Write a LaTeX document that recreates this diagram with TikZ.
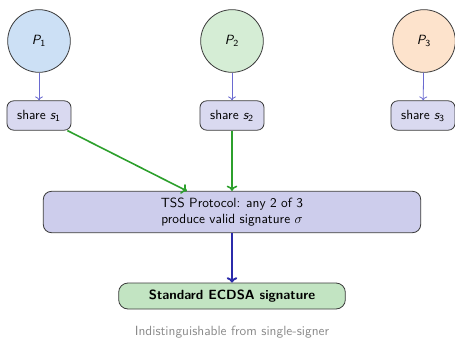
\documentclass[tikz,border=0pt]{standalone}
\usetikzlibrary{arrows.meta}
\renewcommand{\familydefault}{\sfdefault}
\DeclareMathAlphabet{\mathsfit}{OT1}{cmss}{m}{sl}
\newcommand{\sv}[2]{\mathsfit{#1}_{\mathsf{#2}}}
\definecolor{pone}{HTML}{CCE0F5}
\definecolor{ptwo}{HTML}{D5EDD5}
\definecolor{pthree}{HTML}{FDE3CC}
\definecolor{sharefill}{HTML}{D9D9F0}
\definecolor{tssfill}{HTML}{CDCDEC}
\definecolor{ecdsafill}{HTML}{C2E4C2}
\definecolor{thinblue}{HTML}{6A6AD0}
\definecolor{darkblue}{HTML}{2B2BAA}
\definecolor{arrgreen}{HTML}{2CA02C}
\definecolor{edge}{HTML}{3A3A3A}
\definecolor{capgray}{HTML}{8A8A8A}
\tikzset{
  party/.style={circle, draw=edge, line width=0.6pt, minimum size=47pt, inner sep=0pt, font=\normalsize},
  sharebox/.style={rounded corners=5pt, draw=edge, line width=0.6pt, fill=sharefill, minimum width=48pt, minimum height=22pt, inner sep=2pt},
  tssbox/.style={rounded corners=6pt, draw=edge, line width=0.6pt, fill=tssfill, minimum width=283pt, minimum height=31pt, align=center, inner sep=2pt},
  ecdsabox/.style={rounded corners=7pt, draw=edge, line width=0.6pt, fill=ecdsafill, minimum width=170pt, minimum height=19.5pt, font=\bfseries},
  thinarr/.style={-{To[length=3pt,width=6pt]}, draw=thinblue, line width=0.6pt},
  greenarr/.style={-{To[length=4pt,width=8pt]}, draw=arrgreen, line width=1.2pt},
  bluearr/.style={-{To[length=4pt,width=8pt]}, draw=darkblue, line width=1.4pt},
  caption/.style={font=\normalsize, text=capgray}
}
\begin{document}
\begin{tikzpicture}[x=0.75pt,y=-0.75pt]
\useasboundingbox (0,0) rectangle (455,340);
\node[party, fill=pone] (p1) at (39,41) {$\sv{P}{1}$};
\node[party, fill=ptwo] (p2) at (232,41) {$\sv{P}{2}$};
\node[party, fill=pthree] (p3) at (424,41) {$\sv{P}{3}$};
\node[sharebox] (s1) at (39,115.5) {share $\sv{s}{1}$};
\node[sharebox] (s2) at (232,115.5) {share $\sv{s}{2}$};
\node[sharebox] (s3) at (423,115.5) {share $\sv{s}{3}$};
\node[tssbox] (tss) at (232,212) {TSS Protocol: any 2 of 3\\produce valid signature $\sigma$};
\node[ecdsabox] (ecdsa) at (232,296) {Standard ECDSA signature};
\node[caption] (cap) at (232,332) {Indistinguishable from single-signer};
\draw[thinarr] (p1) -- (s1);
\draw[thinarr] (p2) -- (s2);
\draw[thinarr] (p3) -- (s3);
\coordinate (t1) at (187,191);
\draw[greenarr] (s1.south east) ++(-3pt,0) -- (t1);
\draw[greenarr] (s2) -- (tss.north -| s2);
\draw[bluearr] (tss) -- (ecdsa);
\end{tikzpicture}
\end{document}
